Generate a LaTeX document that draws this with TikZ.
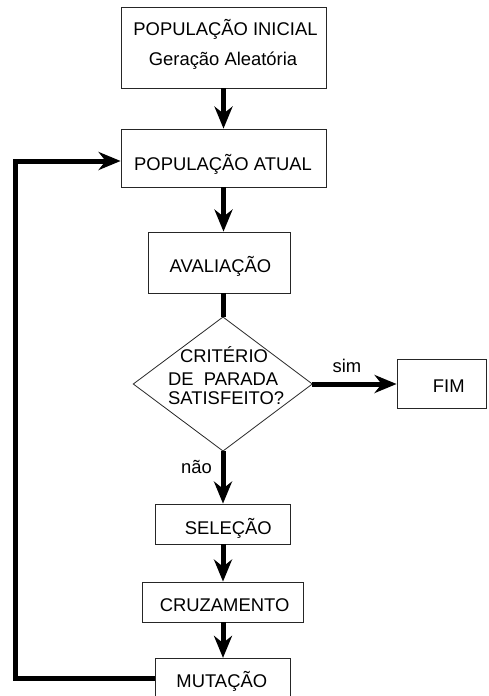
\documentclass[tikz,border=0pt]{standalone}
\usepackage{fontspec}
\setmainfont{Liberation Sans}
\usetikzlibrary{arrows.meta}
\begin{document}
\begin{tikzpicture}[x=1pt,y=-1pt,
  box/.style={draw=black!85,line width=0.8pt,inner sep=0pt,rectangle},
  lbl/.style={anchor=base,inner sep=0pt,font=\fontsize{18.4}{22}\selectfont},
  flow/.style={line width=5pt,-{Stealth[length=22pt,width=18pt,inset=7pt]}},
  plainflow/.style={line width=5pt}]
\useasboundingbox (0,0) rectangle (488,696);
% boxes
\node[box,minimum width=205pt,minimum height=81pt] (ini) at (223.5,47.5) {};
\node[box,minimum width=205pt,minimum height=58pt] (pop) at (223.5,158) {};
\node[box,minimum width=142pt,minimum height=61pt] (ava) at (219.5,262.5) {};
\node[box,minimum width=89pt,minimum height=49pt] (fim) at (441.5,383.5) {};
\node[box,minimum width=135pt,minimum height=40pt] (sel) at (223,524) {};
\node[box,minimum width=161pt,minimum height=40pt] (cru) at (223,602) {};
\node[box,minimum width=135pt,minimum height=40pt] (mut) at (223,678.3) {};
% diamond
\coordinate (dT) at (223,317);
\coordinate (dR) at (312.3,384);
\coordinate (dB) at (223,451);
\coordinate (dL) at (133.3,384);
\draw[draw=black!85,line width=0.8pt] (dT) -- (dR) -- (dB) -- (dL) -- cycle;
% texts
\node[lbl] (t1) at (225.5,35.7) {POPULAÇÃO INICIAL};
\node[lbl] (t2) at (223,65) {Geração Aleatória};
\node[lbl] (t3) at (223,170) {POPULAÇÃO ATUAL};
\node[lbl] (t4) at (220.5,272.3) {AVALIAÇÃO};
\node[lbl] (t5) at (224,362.3) {CRITÉRIO};
\node[lbl,anchor=base west] (t6) at (168,385) {\hbox to 110pt{DE\hfil PARADA}};
\node[lbl,anchor=base west] (t7) at (168,404.3) {SATISFEITO?};
\node[lbl] (t8) at (448.8,392) {FIM};
\node[lbl] (t9) at (347,372.7) {sim};
\node[lbl] (t10) at (196.5,473) {não};
\node[lbl] (t11) at (228.3,534.3) {SELEÇÃO};
\node[lbl] (t12) at (224.6,611.7) {CRUZAMENTO};
\node[lbl] (t13) at (221.8,687.3) {MUTAÇÃO};
% connectors
\draw[flow] (ini.south) -- (pop.north);
\draw[flow] (pop.south) -- (pop.south |- ava.north);
\draw[plainflow] (dT |- ava.south) -- (dT);
\draw[flow] (dR) -- (fim.west |- dR);
\draw[flow] (dB) -- (sel.north);
\draw[flow] (sel.south) -- (cru.north);
\draw[flow] (cru.south) -- (mut.north);
\coordinate (loopB) at (15.5,678.3);
\draw[flow] (mut.west) -- (loopB) |- ([yshift=-3pt]pop.west);
\end{tikzpicture}
\end{document}
